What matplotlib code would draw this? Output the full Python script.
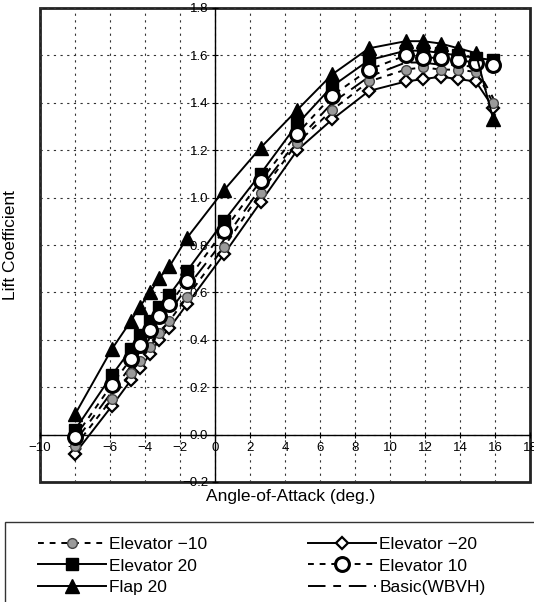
import matplotlib
matplotlib.use("Agg")
import matplotlib.pyplot as plt
from matplotlib.ticker import MultipleLocator, FuncFormatter
from matplotlib.patches import Rectangle

plt.rcParams['font.family'] = ['Liberation Sans', 'DejaVu Sans']

aoa = [-8, -5.9, -4.8, -4.3, -3.7, -3.2, -2.6, -1.6, 0.5, 2.6, 4.7, 6.7, 8.8,
       10.9, 11.9, 12.9, 13.9, 14.9, 15.9]

elev_m10 = [-0.05, 0.15, 0.26, 0.31, 0.37, 0.43, 0.48, 0.58, 0.79, 1.02, 1.23, 1.37, 1.49,
            1.54, 1.55, 1.54, 1.54, 1.53, 1.40]
elev_m20 = [-0.08, 0.12, 0.23, 0.28, 0.34, 0.40, 0.45, 0.55, 0.76, 0.98, 1.20, 1.33, 1.45,
            1.49, 1.50, 1.51, 1.50, 1.49, 1.38]
elev_20 = [0.02, 0.25, 0.36, 0.42, 0.48, 0.54, 0.59, 0.69, 0.90, 1.10, 1.31, 1.47, 1.58,
           1.62, 1.62, 1.61, 1.60, 1.59, 1.58]
elev_10 = [-0.01, 0.21, 0.32, 0.38, 0.44, 0.50, 0.55, 0.65, 0.86, 1.07, 1.27, 1.43, 1.54,
           1.60, 1.59, 1.59, 1.58, 1.57, 1.56]
flap_20 = [0.085, 0.36, 0.48, 0.54, 0.60, 0.66, 0.71, 0.83, 1.03, 1.21, 1.37, 1.52, 1.63,
           1.66, 1.66, 1.65, 1.63, 1.61, 1.33]
basic = [-0.03, 0.18, 0.29, 0.35, 0.41, 0.47, 0.52, 0.62, 0.82, 1.04, 1.24, 1.40, 1.51,
         1.57, 1.57, 1.56, 1.56, 1.55, 1.42]

labels = ["Elevator \u221210", "Elevator \u221220", "Elevator 20", "Elevator 10",
          "Flap 20", "Basic(WBVH)"]

fig = plt.figure(figsize=(5.34, 6.02), dpi=100)
ax = fig.add_axes([40/534, 1-482/602, 490/534, 474/602])

ax.set_xlim(-10, 18)
ax.set_ylim(-0.2, 1.8)

# grid
ax.xaxis.set_major_locator(MultipleLocator(2))
ax.yaxis.set_major_locator(MultipleLocator(0.2))
ax.grid(True, color='#333333', linestyle=(0, (2, 4)), linewidth=0.8)
ax.set_axisbelow(True)

# axes through zero, outer frame from patch
for s in ['top', 'right']:
    ax.spines[s].set_visible(False)
ax.spines['left'].set_position(('data', 0))
ax.spines['bottom'].set_position(('data', 0))
ax.spines['left'].set_linewidth(1.0)
ax.spines['bottom'].set_linewidth(1.0)
ax.patch.set_edgecolor('#222222')
ax.patch.set_linewidth(2.0)

def fmt_x(v, pos):
    s = "%d" % round(v)
    return s.replace('-', '\u2212')

def fmt_y(v, pos):
    s = "%.1f" % v
    if s == "-0.0":
        s = "0.0"
    return s.replace('-', '\u2212')

ax.xaxis.set_major_formatter(FuncFormatter(fmt_x))
ax.yaxis.set_major_formatter(FuncFormatter(fmt_y))
ax.tick_params(axis='both', direction='inout', length=4, width=0.8, labelsize=9.5, pad=3)

lw = 1.4
h_basic, = ax.plot(aoa, basic, color='black', lw=lw, linestyle=(0, (9, 4, 4, 4)), zorder=3)
h_m20, = ax.plot(aoa, elev_m20, color='black', lw=lw, linestyle='-', marker='D', ms=6,
                 mfc='white', mec='black', mew=1.6, zorder=4)
h_m10, = ax.plot(aoa, elev_m10, color='black', lw=lw, linestyle=(0, (3, 3)), marker='o', ms=7,
                 mfc='#9a9a9a', mec='#444444', mew=1.0, zorder=5)
h_20, = ax.plot(aoa, elev_20, color='black', lw=lw, linestyle='-', marker='s', ms=9,
                mfc='black', mec='black', zorder=6)
h_10, = ax.plot(aoa, elev_10, color='black', lw=lw, linestyle=(0, (3, 3)), marker='o', ms=10,
                mfc='white', mec='black', mew=2.2, zorder=7)
h_f, = ax.plot(aoa, flap_20, color='black', lw=lw, linestyle='-', marker='^', ms=10,
               mfc='black', mec='black', zorder=8)

ax.set_ylabel("Lift Coefficient", fontsize=12.5)
ax.yaxis.set_label_coords(-0.045, 0.5)
ax.set_xlabel("Angle-of-Attack (deg.)", fontsize=12.5)
ax.xaxis.set_label_coords(0.512, -0.015)

# legend frame
fig.add_artist(Rectangle((5/534, -0.02), 1.0, (602-522)/602 + 0.02,
                         transform=fig.transFigure, fill=False,
                         edgecolor='#333333', linewidth=1.0))

handles = [h_m10, h_20, h_f, h_m20, h_10, h_basic]
labs = [labels[0], labels[2], labels[4], labels[1], labels[3], labels[5]]
leg = fig.legend(handles, labs, loc='upper left', ncol=2,
                 bbox_to_anchor=(38/534, 1-537/602), fontsize=12.5,
                 frameon=False, handlelength=3.9, columnspacing=5.8,
                 borderaxespad=0.0, labelspacing=0.36, handletextpad=0.2,
                 borderpad=0.0)

fig.savefig("out.png", dpi=100)
